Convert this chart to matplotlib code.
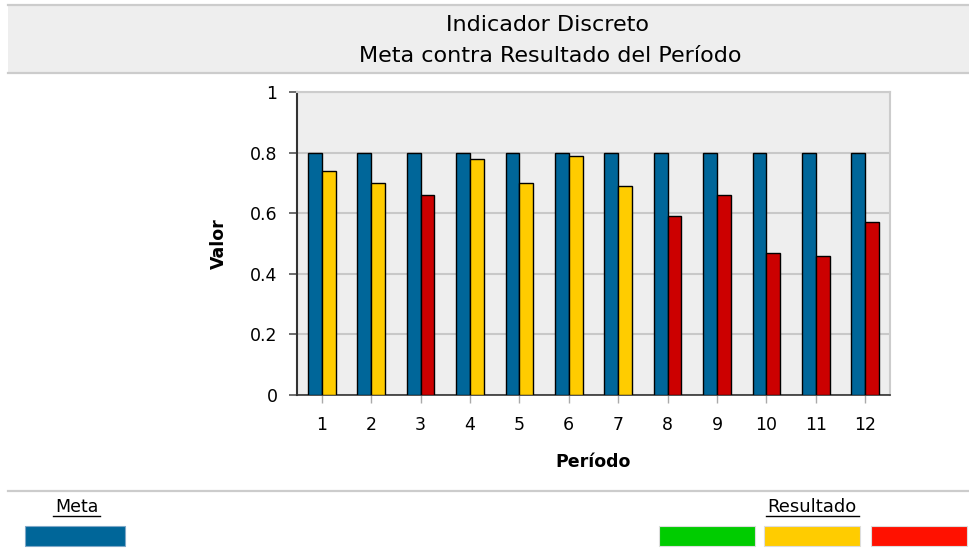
import matplotlib

matplotlib.use("Agg")
import matplotlib.pyplot as plt
import numpy as np
from matplotlib.patches import Rectangle
from matplotlib.lines import Line2D

periodos = ["1", "2", "3", "4", "5", "6", "7", "8", "9", "10", "11", "12"]
meta = [0.8, 0.8, 0.8, 0.8, 0.8, 0.8, 0.8, 0.8, 0.8, 0.8, 0.8, 0.8]
resultado = [0.74, 0.70, 0.66, 0.78, 0.70, 0.79, 0.69, 0.59, 0.66, 0.47, 0.46, 0.57]
estado = ["amarillo", "amarillo", "rojo", "amarillo", "amarillo", "amarillo",
          "amarillo", "rojo", "rojo", "rojo", "rojo", "rojo"]
y_ticks = [0, 0.2, 0.4, 0.6, 0.8, 1]
y_tick_labels = ["0", "0.2", "0.4", "0.6", "0.8", "1"]

META_COLOR = "#006699"
BAR_COLORS = {"verde": "#00cc00", "amarillo": "#ffcc00", "rojo": "#cc0000"}
LEGEND_COLORS = ["#00cc00", "#ffcc00", "#ff1100"]
BAND = "#eeeeee"

W, H = 970, 551
fig = plt.figure(figsize=(W / 100, H / 100), dpi=100)


def fx(px):
    return px / W


def fy(py):
    return 1 - py / H


# title band
fig.patches.append(Rectangle((fx(8), fy(73)), fx(962), fy(5) - fy(73),
                             transform=fig.transFigure, facecolor=BAND,
                             edgecolor="none", zorder=0))
for yy in (5, 73, 491):
    fig.add_artist(Line2D([fx(8), 1], [fy(yy), fy(yy)], transform=fig.transFigure,
                          color="#cccccc", linewidth=1.6))
fig.text(fx(548), fy(25), "Indicador Discreto", ha="center", va="center", fontsize=16)
fig.text(fx(550), fy(56), "Meta contra Resultado del Período", ha="center", va="center",
         fontsize=16)

ax = fig.add_axes([fx(297), fy(395), fx(890) - fx(297), fy(92) - fy(395)])
ax.set_facecolor(BAND)
x = np.arange(1, len(periodos) + 1)
w = 0.28
ax.bar(x - w / 2, meta, width=w, color=META_COLOR, edgecolor="black", linewidth=1, zorder=3)
ax.bar(x + w / 2, resultado, width=w, color=[BAR_COLORS[e] for e in estado],
       edgecolor="black", linewidth=1, zorder=3)

ax.set_xlim(0.5, 12.5)
ax.set_ylim(0, 1)
ax.set_xticks(x)
ax.set_xticklabels(periodos, fontsize=12.5)
ax.set_yticks(y_ticks)
ax.set_yticklabels(y_tick_labels, fontsize=12.5)
ax.yaxis.grid(True, color="#c8c8c8", linewidth=1.5, zorder=0)
ax.set_axisbelow(True)
for side in ("top", "right"):
    ax.spines[side].set_color("#cccccc")
    ax.spines[side].set_linewidth(1.5)
ax.spines["left"].set_color("#333333")
ax.spines["left"].set_linewidth(1.5)
ax.spines["bottom"].set_color("#333333")
ax.spines["bottom"].set_linewidth(1.2)
ax.tick_params(axis="y", length=6, width=1.2, color="#555555", pad=8)
ax.tick_params(axis="x", length=6, width=1, color="#aaaaaa", pad=9)
ax.set_xlabel("Período", fontsize=12.5, fontweight="bold", labelpad=14)
ax.set_ylabel("Valor", fontsize=12.5, fontweight="bold", labelpad=16)

# legend footer
fig.text(fx(77), fy(507), "Meta", ha="center", va="center", fontsize=12.5)
fig.add_artist(Line2D([fx(53), fx(100)], [fy(516), fy(516)], transform=fig.transFigure,
                      color="black", linewidth=1))
fig.patches.append(Rectangle((fx(25), fy(546)), fx(100), fy(526) - fy(546),
                             transform=fig.transFigure, facecolor=META_COLOR,
                             edgecolor="#7fa8c8", linewidth=0.8))
fig.text(fx(812), fy(507), "Resultado", ha="center", va="center", fontsize=13)
fig.add_artist(Line2D([fx(766), fx(859)], [fy(516), fy(516)], transform=fig.transFigure,
                      color="black", linewidth=1))
for x0, c in zip([659, 764, 871], LEGEND_COLORS):
    fig.patches.append(Rectangle((fx(x0), fy(546)), fx(96), fy(526) - fy(546),
                                 transform=fig.transFigure, facecolor=c,
                                 edgecolor="#dddddd", linewidth=0.8))

fig.savefig("out.png", dpi=100)
